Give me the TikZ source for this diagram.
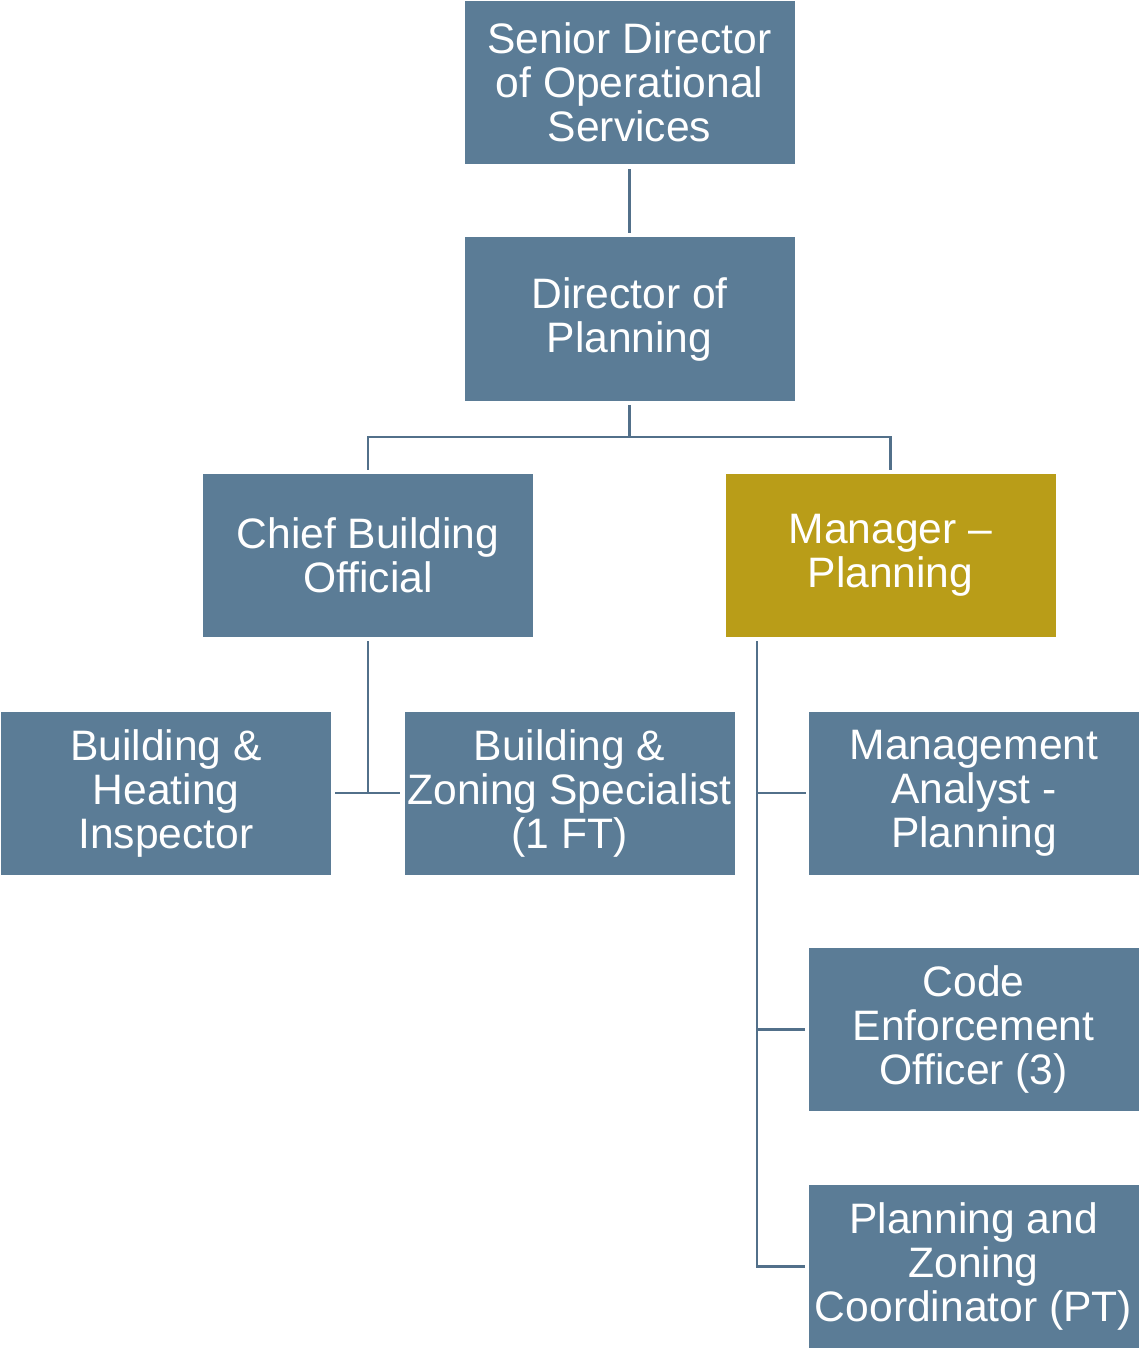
\documentclass[tikz,border=0pt]{standalone}
\usepackage{fontspec}
\setmainfont{Liberation Sans}
\usetikzlibrary{positioning}
\definecolor{steel}{HTML}{5B7C96}
\definecolor{steelline}{HTML}{52708A}
\definecolor{gold}{HTML}{B99D18}
\tikzstyle{post} = [rectangle, minimum width=165pt, minimum height=81.5pt, inner sep=1pt,
text centered, align=center, fill=steel, text=white,
font=\fontsize{21.3pt}{22pt}\selectfont]
\tikzstyle{lead} = [post, fill=gold]
\tikzstyle{conn} = [draw=steelline, line width=1.1pt]

\begin{document}
\begin{tikzpicture}[x=0.5pt,y=-0.5pt]
\useasboundingbox (0,0) rectangle (1142,1348);

\node (sdos) [post] at (629.5,82.5) {Senior Director\\of Operational\\Services};
\node (dop) [post] at (629.5,319) {Director of\\Planning};
\node (cbo) [post] at (368,555.5) {Chief Building\\Official};
\node (mgr) [lead] at (890.5,555.5) {Manager --\\Planning};
\node (bhi) [post] at (166,793) {Building \&\\Heating\\Inspector};
\node (bzs) [post] at (569.5,793) {Building \&\\Zoning Specialist\\(1 FT)};
\node (map) [post] at (974,793) {Management\\Analyst -\\Planning};
\node (ceo) [post] at (973.5,1029.5) {Code\\Enforcement\\Officer (3)};
\node (pzc) [post] at (973.5,1266.5) {Planning and\\Zoning\\Coordinator (PT)};

\coordinate (split) at (629.5,437);
\coordinate (cbojoin) at (cbo.south |- bhi.east);
\coordinate (mgrdrop) at ([xshift=16pt]mgr.south west);

\draw [conn, shorten <=2.5pt, shorten >=2pt] (sdos) -- (dop);
\draw [conn, shorten <=2pt] (dop) -- (split);
\draw [conn, shorten <=2pt, shorten >=2pt] (cbo.north) |- (split) -| (mgr.north);
\draw [conn, shorten <=2pt] (cbo) -- (cbojoin);
\draw [conn, shorten <=2pt, shorten >=2pt] (bhi) -- (bzs);
\draw [conn, shorten <=2pt, shorten >=1.5pt] (mgrdrop) |- (pzc.west);
\draw [conn, shorten >=1.5pt] (mgrdrop |- map.west) -- (map.west);
\draw [conn, shorten >=1.5pt] (mgrdrop |- ceo.west) -- (ceo.west);

\end{tikzpicture}
\end{document}
